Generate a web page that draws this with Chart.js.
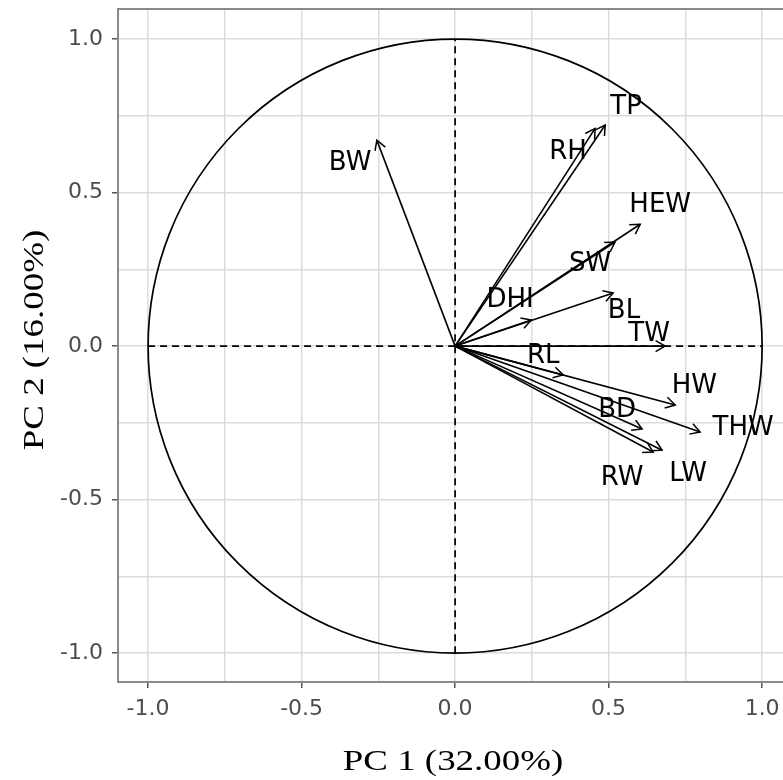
<!DOCTYPE html>
<html>
<head>
<meta charset="utf-8">
<script src="https://cdn.jsdelivr.net/npm/chart.js@4.4.0/dist/chart.umd.min.js"></script>
<style>
  html, body { margin: 0; padding: 0; background: #fff; }
  #wrap { width: 783px; height: 780px; }
</style>
</head>
<body>
<div id="wrap"><canvas id="pcaChart" width="783" height="780"></canvas></div>
<script>
// Variable loadings (PC1, PC2)
const variables = ['BW', 'TP', 'RH', 'HEW', 'SW', 'DHI', 'BL', 'TW', 'RL', 'HW', 'BD', 'THW', 'LW', 'RW'];
const pc1 = [-0.255, 0.489, 0.456, 0.603, 0.521, 0.248, 0.515, 0.684, 0.352, 0.717, 0.609, 0.798, 0.674, 0.645];
const pc2 = [0.671, 0.720, 0.709, 0.397, 0.339, 0.085, 0.173, 0.000, -0.094, -0.192, -0.270, -0.280, -0.339, -0.345];

// where each name sits (data units, like geom_text x/y)
const labelX = [-0.342, 0.557, 0.368, 0.668, 0.440, 0.179, 0.550, 0.632, 0.287, 0.779, 0.528, 0.938, 0.759, 0.544];
const labelY = [0.596, 0.779, 0.632, 0.459, 0.267, 0.150, 0.114, 0.039, -0.033, -0.130, -0.208, -0.267, -0.417, -0.430];

// grid every 0.25, labels every 0.5
const tickValues = [-1, -0.75, -0.5, -0.25, 0, 0.25, 0.5, 0.75, 1];
const xTitle = 'PC 1 (32.00%)';
const yTitle = 'PC 2 (16.00%)';

function isMajor(v) {
    return Math.abs(v * 2 - Math.round(v * 2)) < 1e-6;
}

// shafts of the arrows
const arrowSets = variables.map(function(name, i) {
    return {
        label: name,
        data: [{ x: 0, y: 0 }, { x: pc1[i], y: pc2[i] }],
        showLine: true,
        borderColor: '#000',
        borderWidth: 1.6,
        pointRadius: 0
    };
});

// dashed reference axes
const refSets = [
    { label: 'h', data: [{ x: -1, y: 0 }, { x: 1, y: 0 }] },
    { label: 'v', data: [{ x: 0, y: -1 }, { x: 0, y: 1 }] }
].map(function(d) {
    return Object.assign(d, {
        showLine: true,
        borderColor: '#000',
        borderWidth: 1.7,
        borderDash: [7, 5],
        pointRadius: 0
    });
});

const biplotExtras = {
    id: 'biplotExtras',
    beforeDatasetsDraw(chart) {
        const ctx = chart.ctx, xs = chart.scales.x, ys = chart.scales.y, a = chart.chartArea;
        const cx = xs.getPixelForValue(0), cy = ys.getPixelForValue(0);
        const rx = xs.getPixelForValue(1) - cx, ry = cy - ys.getPixelForValue(1);
        ctx.save();
        ctx.beginPath();
        ctx.rect(a.left, a.top, a.right - a.left, a.bottom - a.top);
        ctx.clip();
        ctx.beginPath();
        ctx.ellipse(cx, cy, rx, ry, 0, 0, Math.PI * 2);
        ctx.strokeStyle = '#000';
        ctx.lineWidth = 1.7;
        ctx.stroke();
        ctx.restore();
    },
    afterDatasetsDraw(chart) {
        const ctx = chart.ctx, xs = chart.scales.x, ys = chart.scales.y;
        const ox = xs.getPixelForValue(0), oy = ys.getPixelForValue(0);
        ctx.save();
        ctx.strokeStyle = '#000';
        ctx.lineWidth = 1.5;
        const len = 11, spread = Math.PI / 6;
        variables.forEach(function(name, i) {
            const tx = xs.getPixelForValue(pc1[i]), ty = ys.getPixelForValue(pc2[i]);
            const ang = Math.atan2(ty - oy, tx - ox);
            ctx.beginPath();
            ctx.moveTo(tx - len * Math.cos(ang - spread), ty - len * Math.sin(ang - spread));
            ctx.lineTo(tx, ty);
            ctx.lineTo(tx - len * Math.cos(ang + spread), ty - len * Math.sin(ang + spread));
            ctx.stroke();
        });
        ctx.fillStyle = '#000';
        ctx.font = '26px "DejaVu Sans"';
        ctx.textAlign = 'center';
        ctx.textBaseline = 'middle';
        variables.forEach(function(name, i) {
            ctx.fillText(name, xs.getPixelForValue(labelX[i]), ys.getPixelForValue(labelY[i]));
        });
        ctx.restore();
    },
    afterDraw(chart) {
        const ctx = chart.ctx, a = chart.chartArea;
        ctx.save();
        // panel border (right side runs off the picture)
        ctx.strokeStyle = '#8a8a8a';
        ctx.lineWidth = 2;
        ctx.strokeRect(a.left, a.top, a.right - a.left + 20, a.bottom - a.top);

        // axis titles, wide serif like the original
        ctx.fillStyle = '#000';
        ctx.font = '30px "Liberation Serif"';
        ctx.textAlign = 'center';
        ctx.textBaseline = 'alphabetic';
        ctx.save();
        ctx.translate(453, 770);
        ctx.scale(1.23, 1);
        ctx.fillText(xTitle, 0, 0);
        ctx.restore();

        ctx.save();
        ctx.translate(43, 340);
        ctx.rotate(-Math.PI / 2);
        ctx.scale(1.23, 1);
        ctx.fillText(yTitle, 0, 0);
        ctx.restore();
        ctx.restore();
    }
};

function axisOptions(min, max) {
    return {
        type: 'linear',
        min: min,
        max: max,
        afterBuildTicks: function(scale) {
            scale.ticks = tickValues.map(function(v) { return { value: v }; });
        },
        grid: {
            color: '#dcdcdc',
            lineWidth: 1.5,
            tickLength: 6,
            tickColor: function(c) {
                return c.tick && isMajor(c.tick.value) ? '#555' : 'rgba(0,0,0,0)';
            }
        },
        border: { display: false },
        ticks: {
            autoSkip: false,
            maxRotation: 0,
            color: '#4d4d4d',
            font: { family: 'DejaVu Sans', size: 22 },
            callback: function(v) {
                return isMajor(v) ? Number(v).toFixed(1) : '';
            }
        }
    };
}

// no extra label padding: the panel edges are fixed by hand
function noPad(scale) {
    scale.paddingTop = 0;
    scale.paddingBottom = 0;
    scale.paddingLeft = 0;
    scale.paddingRight = 0;
}

const xAxis = axisOptions(-1.098, 1.068);
xAxis.ticks.padding = 8;
xAxis.afterFit = function(scale) { scale.height = 98; noPad(scale); };

const yAxis = axisOptions(-1.094, 1.098);
yAxis.ticks.padding = 9;
yAxis.afterFit = function(scale) { scale.width = 118; noPad(scale); };

const pcaCtx = document.getElementById('pcaChart').getContext('2d');
const pcaChart = new Chart(pcaCtx, {
    type: 'scatter',
    data: { datasets: refSets.concat(arrowSets) },
    options: {
        responsive: false,
        animation: false,
        layout: { padding: { top: 9, right: 0, bottom: 0, left: 0 } },
        plugins: {
            legend: { display: false },
            tooltip: { enabled: false }
        },
        scales: { x: xAxis, y: yAxis }
    },
    plugins: [biplotExtras]
});
</script>
</body>
</html>
